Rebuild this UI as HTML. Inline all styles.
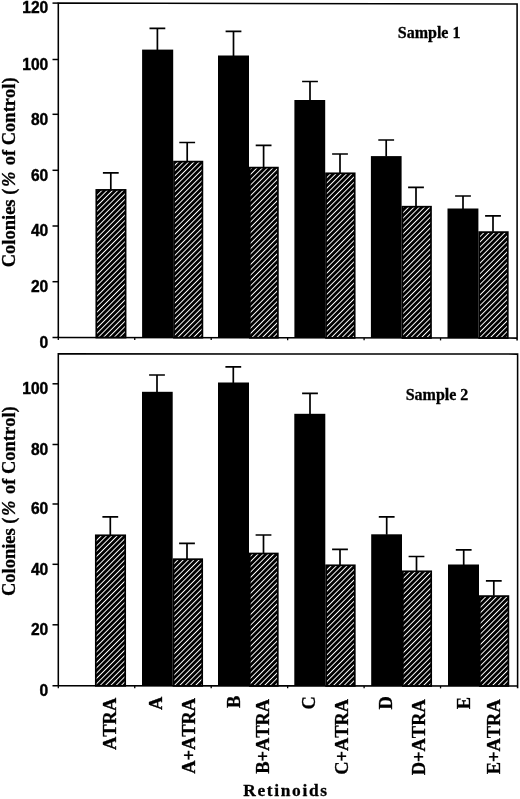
<!DOCTYPE html>
<html><head><meta charset="utf-8"><title>Retinoids chart</title>
<style>
html,body{margin:0;padding:0;background:#fff;}
body{width:520px;height:799px;overflow:hidden;}
svg{display:block;will-change:transform;}
text{fill:#000;}
.ser{font-family:"Liberation Serif",serif;font-weight:bold;stroke:#000;stroke-width:0.3px;font-kerning:none;}
.san{font-family:"Liberation Sans",sans-serif;font-weight:bold;}
</style></head><body>
<svg width="520" height="799" viewBox="0 0 520 799">
<defs>
<pattern id="hatch" patternUnits="userSpaceOnUse" width="3.75" height="3.75" patternTransform="rotate(-45)">
<rect x="0" y="0" width="3.75" height="3.75" fill="#000"/>
<rect x="0" y="0" width="3.75" height="0.95" fill="#fff"/>
</pattern>
</defs>
<rect x="96.30" y="189.90" width="29.30" height="147.67" fill="url(#hatch)" stroke="#000" stroke-width="1.7"/>
<path d="M110.80 189.60V172.80M102.90 172.80H118.70" stroke="#000" stroke-width="1.7" fill="none"/>
<rect x="142.10" y="49.60" width="31.10" height="288.03" fill="#000"/>
<path d="M157.40 50.10V28.30M149.50 28.30H165.30" stroke="#000" stroke-width="1.7" fill="none"/>
<rect x="174.00" y="161.60" width="28.40" height="176.07" fill="url(#hatch)" stroke="#000" stroke-width="1.7"/>
<path d="M187.20 161.30V142.50M179.30 142.50H195.10" stroke="#000" stroke-width="1.7" fill="none"/>
<rect x="218.00" y="55.50" width="31.00" height="282.23" fill="#000"/>
<path d="M233.50 56.00V31.30M225.60 31.30H241.40" stroke="#000" stroke-width="1.7" fill="none"/>
<rect x="249.80" y="167.60" width="28.10" height="170.17" fill="url(#hatch)" stroke="#000" stroke-width="1.7"/>
<path d="M263.60 167.30V145.30M255.70 145.30H271.50" stroke="#000" stroke-width="1.7" fill="none"/>
<rect x="294.40" y="100.00" width="30.80" height="237.83" fill="#000"/>
<path d="M310.00 100.50V81.50M302.10 81.50H317.90" stroke="#000" stroke-width="1.7" fill="none"/>
<rect x="326.00" y="173.30" width="28.70" height="164.57" fill="url(#hatch)" stroke="#000" stroke-width="1.7"/>
<path d="M340.00 173.00V154.00M332.10 154.00H347.90" stroke="#000" stroke-width="1.7" fill="none"/>
<rect x="370.90" y="156.10" width="30.70" height="181.83" fill="#000"/>
<path d="M386.20 156.60V140.00M378.30 140.00H394.10" stroke="#000" stroke-width="1.7" fill="none"/>
<rect x="402.40" y="206.70" width="28.60" height="131.27" fill="url(#hatch)" stroke="#000" stroke-width="1.7"/>
<path d="M416.00 206.40V187.40M408.10 187.40H423.90" stroke="#000" stroke-width="1.7" fill="none"/>
<rect x="447.50" y="208.50" width="30.90" height="129.53" fill="#000"/>
<path d="M463.00 209.00V196.00M455.10 196.00H470.90" stroke="#000" stroke-width="1.7" fill="none"/>
<rect x="479.20" y="232.10" width="28.60" height="105.97" fill="url(#hatch)" stroke="#000" stroke-width="1.7"/>
<path d="M493.00 231.80V215.80M485.10 215.80H500.90" stroke="#000" stroke-width="1.7" fill="none"/>
<path d="M58.3 338.2V3.1L517.1 4.1V340.40000000000003M52.5 337.5L517.1 338.1" stroke="#000" stroke-width="1.55" fill="none" stroke-linejoin="miter"/>
<path d="M58.30 337.50v2.4" stroke="#000" stroke-width="1.3" fill="none"/>
<path d="M134.75 337.60v2.4" stroke="#000" stroke-width="1.3" fill="none"/>
<path d="M211.20 337.70v2.4" stroke="#000" stroke-width="1.3" fill="none"/>
<path d="M287.65 337.80v2.4" stroke="#000" stroke-width="1.3" fill="none"/>
<path d="M364.10 337.90v2.4" stroke="#000" stroke-width="1.3" fill="none"/>
<path d="M440.55 338.00v2.4" stroke="#000" stroke-width="1.3" fill="none"/>
<rect x="95.80" y="535.30" width="29.40" height="150.52" fill="url(#hatch)" stroke="#000" stroke-width="1.7"/>
<path d="M110.30 535.00V516.80M102.40 516.80H118.20" stroke="#000" stroke-width="1.7" fill="none"/>
<rect x="142.00" y="391.80" width="30.70" height="294.04" fill="#000"/>
<path d="M157.00 392.30V375.00M149.10 375.00H164.90" stroke="#000" stroke-width="1.7" fill="none"/>
<rect x="173.50" y="559.20" width="28.70" height="126.66" fill="url(#hatch)" stroke="#000" stroke-width="1.7"/>
<path d="M187.00 558.90V543.30M179.10 543.30H194.90" stroke="#000" stroke-width="1.7" fill="none"/>
<rect x="218.00" y="382.50" width="31.00" height="303.38" fill="#000"/>
<path d="M233.30 383.00V366.80M225.40 366.80H241.20" stroke="#000" stroke-width="1.7" fill="none"/>
<rect x="249.80" y="553.50" width="28.00" height="132.39" fill="url(#hatch)" stroke="#000" stroke-width="1.7"/>
<path d="M263.50 553.20V535.00M255.60 535.00H271.40" stroke="#000" stroke-width="1.7" fill="none"/>
<rect x="294.30" y="413.80" width="31.00" height="272.11" fill="#000"/>
<path d="M310.00 414.30V393.30M302.10 393.30H317.90" stroke="#000" stroke-width="1.7" fill="none"/>
<rect x="326.10" y="565.30" width="28.70" height="120.62" fill="url(#hatch)" stroke="#000" stroke-width="1.7"/>
<path d="M340.00 565.00V549.30M332.10 549.30H347.90" stroke="#000" stroke-width="1.7" fill="none"/>
<rect x="371.20" y="534.30" width="30.80" height="151.64" fill="#000"/>
<path d="M386.70 534.80V516.80M378.80 516.80H394.60" stroke="#000" stroke-width="1.7" fill="none"/>
<rect x="402.80" y="571.30" width="28.40" height="114.66" fill="url(#hatch)" stroke="#000" stroke-width="1.7"/>
<path d="M416.50 571.00V556.50M408.60 556.50H424.40" stroke="#000" stroke-width="1.7" fill="none"/>
<rect x="448.00" y="564.50" width="31.00" height="121.48" fill="#000"/>
<path d="M463.70 565.00V549.80M455.80 549.80H471.60" stroke="#000" stroke-width="1.7" fill="none"/>
<rect x="479.80" y="596.10" width="28.60" height="89.89" fill="url(#hatch)" stroke="#000" stroke-width="1.7"/>
<path d="M493.80 595.80V580.80M485.90 580.80H501.70" stroke="#000" stroke-width="1.7" fill="none"/>
<path d="M58.3 686.5V353.8L517.6 354.1V688.3M52.5 685.8L517.6 686.0" stroke="#000" stroke-width="1.55" fill="none" stroke-linejoin="miter"/>
<path d="M58.30 685.80v2.4" stroke="#000" stroke-width="1.3" fill="none"/>
<path d="M134.75 685.83v2.4" stroke="#000" stroke-width="1.3" fill="none"/>
<path d="M211.20 685.87v2.4" stroke="#000" stroke-width="1.3" fill="none"/>
<path d="M287.65 685.90v2.4" stroke="#000" stroke-width="1.3" fill="none"/>
<path d="M364.10 685.93v2.4" stroke="#000" stroke-width="1.3" fill="none"/>
<path d="M440.55 685.97v2.4" stroke="#000" stroke-width="1.3" fill="none"/>
<path d="M52.5 3.1H58.3" stroke="#000" stroke-width="1.5"/>
<text class="san" x="48.3" y="13.4" font-size="15.6" stroke="#000" stroke-width="0.4" text-anchor="end">120</text>
<path d="M52.5 59.5H58.3" stroke="#000" stroke-width="1.5"/>
<text class="san" x="48.3" y="69.8" font-size="15.6" stroke="#000" stroke-width="0.4" text-anchor="end">100</text>
<path d="M52.5 114.3H58.3" stroke="#000" stroke-width="1.5"/>
<text class="san" x="48.3" y="124.6" font-size="15.6" stroke="#000" stroke-width="0.4" text-anchor="end">80</text>
<path d="M52.5 170.3H58.3" stroke="#000" stroke-width="1.5"/>
<text class="san" x="48.3" y="180.6" font-size="15.6" stroke="#000" stroke-width="0.4" text-anchor="end">60</text>
<path d="M52.5 226.0H58.3" stroke="#000" stroke-width="1.5"/>
<text class="san" x="48.3" y="236.3" font-size="15.6" stroke="#000" stroke-width="0.4" text-anchor="end">40</text>
<path d="M52.5 281.7H58.3" stroke="#000" stroke-width="1.5"/>
<text class="san" x="48.3" y="292.0" font-size="15.6" stroke="#000" stroke-width="0.4" text-anchor="end">20</text>
<text class="san" x="48.3" y="347.8" font-size="15.6" stroke="#000" stroke-width="0.4" text-anchor="end">0</text>
<path d="M52.5 383.8H58.3" stroke="#000" stroke-width="1.5"/>
<text class="san" x="48.3" y="394.1" font-size="15.6" stroke="#000" stroke-width="0.4" text-anchor="end">100</text>
<path d="M52.5 444.5H58.3" stroke="#000" stroke-width="1.5"/>
<text class="san" x="48.3" y="454.8" font-size="15.6" stroke="#000" stroke-width="0.4" text-anchor="end">80</text>
<path d="M52.5 504.0H58.3" stroke="#000" stroke-width="1.5"/>
<text class="san" x="48.3" y="514.3" font-size="15.6" stroke="#000" stroke-width="0.4" text-anchor="end">60</text>
<path d="M52.5 564.3H58.3" stroke="#000" stroke-width="1.5"/>
<text class="san" x="48.3" y="574.6" font-size="15.6" stroke="#000" stroke-width="0.4" text-anchor="end">40</text>
<path d="M52.5 624.8H58.3" stroke="#000" stroke-width="1.5"/>
<text class="san" x="48.3" y="635.1" font-size="15.6" stroke="#000" stroke-width="0.4" text-anchor="end">20</text>
<text class="san" x="48.3" y="696.1" font-size="15.6" stroke="#000" stroke-width="0.4" text-anchor="end">0</text>
<text class="ser" x="397.8" y="37.9" font-size="16">Sample 1</text>
<text class="ser" x="405.7" y="399.5" font-size="16">Sample 2</text>
<text class="ser" font-size="18.5" transform="translate(15.3 267.3) rotate(-90)">Colonies (</text>
<text class="ser" font-size="18.5" font-style="italic" transform="translate(15.3 187.1) rotate(-90)">%</text>
<text class="ser" font-size="18.5" transform="translate(15.3 165.3) rotate(-90)">of Control)</text>
<text class="ser" font-size="18.5" transform="translate(15.3 596.1) rotate(-90)">Colonies (</text>
<text class="ser" font-size="18.5" font-style="italic" transform="translate(15.3 515.9) rotate(-90)">%</text>
<text class="ser" font-size="18.5" transform="translate(15.3 494.1) rotate(-90)">of Control)</text>
<text class="ser" font-size="18.4" text-anchor="end" transform="translate(115.8 697.8) rotate(-90) scale(1,1.08)">ATRA</text>
<text class="ser" font-size="18.4" text-anchor="end" transform="translate(162.1 696.6) rotate(-90) scale(1,1.08)">A</text>
<text class="ser" font-size="18.4" text-anchor="end" transform="translate(195.4 697.9) rotate(-90) scale(1,1.08)">A+ATRA</text>
<text class="ser" font-size="18.4" text-anchor="end" transform="translate(240.1 695.6) rotate(-90) scale(1,1.08)">B</text>
<text class="ser" font-size="18.4" text-anchor="end" transform="translate(268.9 698.9) rotate(-90) scale(1,1.08)">B+ATRA</text>
<text class="ser" font-size="18.4" text-anchor="end" transform="translate(314.9 696.3) rotate(-90) scale(1,1.08)">C</text>
<text class="ser" font-size="18.4" text-anchor="end" transform="translate(348.0 698.9) rotate(-90) scale(1,1.08)">C+ATRA</text>
<text class="ser" font-size="18.4" text-anchor="end" transform="translate(392.4 696.3) rotate(-90) scale(1,1.08)">D</text>
<text class="ser" font-size="18.4" text-anchor="end" transform="translate(424.5 699.3) rotate(-90) scale(1,1.08)">D+ATRA</text>
<text class="ser" font-size="18.4" text-anchor="end" transform="translate(469.9 696.9) rotate(-90) scale(1,1.08)">E</text>
<text class="ser" font-size="18.4" text-anchor="end" transform="translate(499.8 699.3) rotate(-90) scale(1,1.08)">E+ATRA</text>
<text class="ser" font-size="17.4" x="243.3" y="796.2" letter-spacing="1.65">Retinoids</text>
</svg>
</body></html>
